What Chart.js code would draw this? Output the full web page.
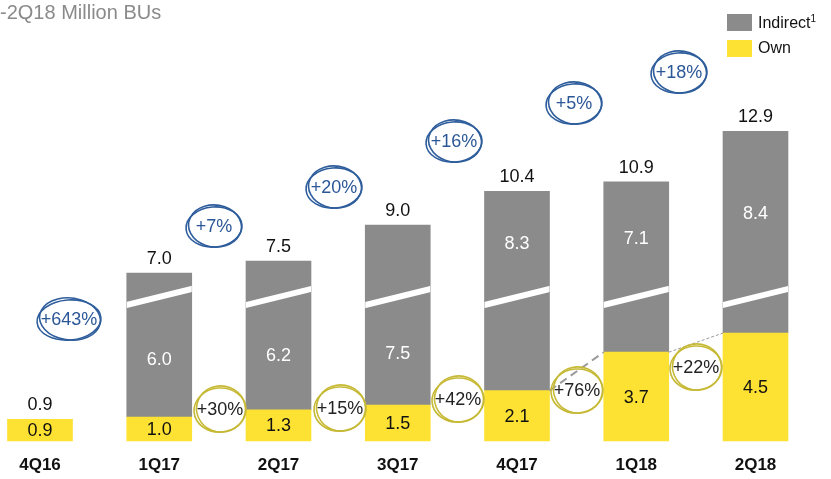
<!DOCTYPE html>
<html>
<head>
<meta charset="utf-8">
<script src="https://cdn.jsdelivr.net/npm/chart.js@4"></script>
<style>
  body { margin: 0; background: #fff; }
  #wrap { position: relative; width: 831px; height: 479px; overflow: hidden; font-family: "Liberation Sans", Arial, sans-serif; }
  #title { position: absolute; left: 0; top: 1px; font-size: 20px; color: #8a8a8a; white-space: nowrap; }
  #legend { position: absolute; left: 727px; top: 9px; font-size: 16px; color: #111; }
  .item { display: flex; align-items: center; height: 26px; }
  .box { width: 25px; height: 17px; margin-right: 6px; }
  sup { font-size: 10px; vertical-align: 6px; }
</style>
</head>
<body>
<div id="wrap">
  <canvas id="chrt" width="831" height="479"></canvas>
  <div id="title">-2Q18 Million BUs</div>
  <div id="legend"></div>
</div>
<script>
let quarters = ['4Q16', '1Q17', '2Q17', '3Q17', '4Q17', '1Q18', '2Q18'];
let own = [0.9, 1.0, 1.3, 1.5, 2.1, 3.7, 4.5];
let indirect = [0, 6.0, 6.2, 7.5, 8.3, 7.1, 8.4];
let totals = [0.9, 7.0, 7.5, 9.0, 10.4, 10.9, 12.9];
let totalGrowth = ['+643%', '+7%', '+20%', '+16%', '+5%', '+18%'];
let ownGrowth = ['+30%', '+15%', '+42%', '+76%', '+22%'];

// where the hand drawn circles sit (pixels)
let blueSpots = [[69, 320], [214, 227], [334, 188], [454, 142], [574, 104], [679, 73]];
let yellowSpots = [[220, 410], [340, 409], [458, 400], [577, 391], [696, 368]];

let grey = '#8b8b8b';
let yellow = '#fde233';
let font = '"Liberation Sans", Arial, sans-serif';

function scribble(ctx, x, y, rx, ry, color) {
    ctx.save();
    ctx.strokeStyle = color;
    ctx.lineWidth = 1.6;
    ctx.beginPath();
    ctx.ellipse(x, y, rx, ry, -0.08, 0, Math.PI * 2);
    ctx.stroke();
    ctx.beginPath();
    ctx.ellipse(x + 1, y - 1, rx - 1.5, ry + 1, 0.1, 0.3, Math.PI * 2.1);
    ctx.stroke();
    ctx.restore();
}

let decorations = {
    id: 'decorations',
    afterDatasetsDraw(chart) {
        let ctx = chart.ctx;
        let y = chart.scales.y;
        let ownBars = chart.getDatasetMeta(0).data;
        let indBars = chart.getDatasetMeta(1).data;
        let breakY = y.getPixelForValue(6.0);

        // white break lines across grey bars
        indBars.forEach((b, i) => {
            if (!indirect[i]) return;
            let w = b.width, left = b.x - w / 2;
            ctx.save();
            ctx.beginPath();
            ctx.rect(left, b.y, w, b.base - b.y);
            ctx.clip();
            ctx.strokeStyle = '#fff';
            ctx.lineWidth = 6;
            ctx.beginPath();
            ctx.moveTo(left - 2, breakY + 8.5);
            ctx.lineTo(left + w + 2, breakY - 8.5);
            ctx.stroke();
            ctx.restore();
        });

        // connectors between own bars
        ctx.save();
        ctx.strokeStyle = '#999';
        ctx.lineWidth = 2;
        ctx.setLineDash([8, 5]);
        ctx.beginPath();
        ctx.moveTo(ownBars[4].x + ownBars[4].width / 2, ownBars[4].y);
        ctx.lineTo(ownBars[5].x - ownBars[5].width / 2, ownBars[5].y);
        ctx.stroke();
        ctx.lineWidth = 1;
        ctx.setLineDash([3, 2]);
        ctx.beginPath();
        ctx.moveTo(ownBars[5].x + ownBars[5].width / 2, ownBars[5].y);
        ctx.lineTo(ownBars[6].x - ownBars[6].width / 2, ownBars[6].y);
        ctx.stroke();
        ctx.restore();

        // value labels
        ctx.save();
        ctx.textAlign = 'center';
        ctx.textBaseline = 'middle';
        ctx.font = '18px ' + font;
        ownBars.forEach((b, i) => {
            ctx.fillStyle = '#111';
            ctx.fillText(own[i].toFixed(1), b.x, (b.y + b.base) / 2 + 1);
            let ib = indBars[i];
            if (indirect[i]) {
                // put the number in the bigger piece of the broken bar
                let below = ib.base - breakY;
                let ly = below > 100 ? (breakY + ib.base) / 2 + 3 : (ib.y + breakY) / 2;
                ctx.fillStyle = '#fff';
                ctx.fillText(indirect[i].toFixed(1), ib.x, ly);
            }
            let top = indirect[i] ? ib.y : b.y;
            ctx.fillStyle = '#111';
            ctx.fillText(totals[i].toFixed(1), b.x, top - 14);
        });

        // growth circles
        ctx.font = '18px ' + font;
        totalGrowth.forEach((t, i) => {
            let [cx, cy] = blueSpots[i];
            let rx = t.length > 4 ? 32 : 28;
            scribble(ctx, cx, cy, rx, 20, '#2e5d9c');
            ctx.fillStyle = '#2b5797';
            ctx.fillText(t, cx, cy);
        });
        ownGrowth.forEach((t, i) => {
            let [cx, cy] = yellowSpots[i];
            scribble(ctx, cx, cy, 26, 22, '#c6b935');
            ctx.fillStyle = '#222';
            ctx.fillText(t, cx, cy);
        });
        ctx.restore();
    }
};

let chrt = document.getElementById('chrt').getContext('2d');
let myChart = new Chart(chrt, {
    type: 'bar',
    data: {
        labels: quarters,
        datasets: [
            { label: 'Own', data: own, backgroundColor: yellow, barThickness: 65, clip: false },
            { label: 'Indirect', data: indirect, backgroundColor: grey, barThickness: 65, clip: false }
        ]
    },
    options: {
        responsive: false,
        animation: false,
        devicePixelRatio: 1,
        layout: { padding: { left: 40, right: 75.5, top: 81, bottom: 0 } },
        plugins: { legend: { display: false }, tooltip: { enabled: false } },
        scales: {
            x: {
                stacked: true,
                offset: false,
                grid: { display: false, drawTicks: false },
                border: { display: false },
                ticks: { color: '#111', padding: 14, font: { family: font, size: 17, weight: 'bold' } },
                afterFit: function(s) { s.height = 38; }
            },
            y: { stacked: true, min: 0, max: 15, display: false }
        }
    },
    plugins: [decorations]
});

// legend from the datasets, indirect first
let legend = document.getElementById('legend');
myChart.data.datasets.slice().reverse().forEach(ds => {
    let row = document.createElement('div');
    row.className = 'item';
    row.innerHTML = '<div class="box" style="background:' + ds.backgroundColor + '"></div><span>' +
        ds.label + (ds.label === 'Indirect' ? '<sup>1</sup>' : '') + '</span>';
    legend.appendChild(row);
});
</script>
</body>
</html>
